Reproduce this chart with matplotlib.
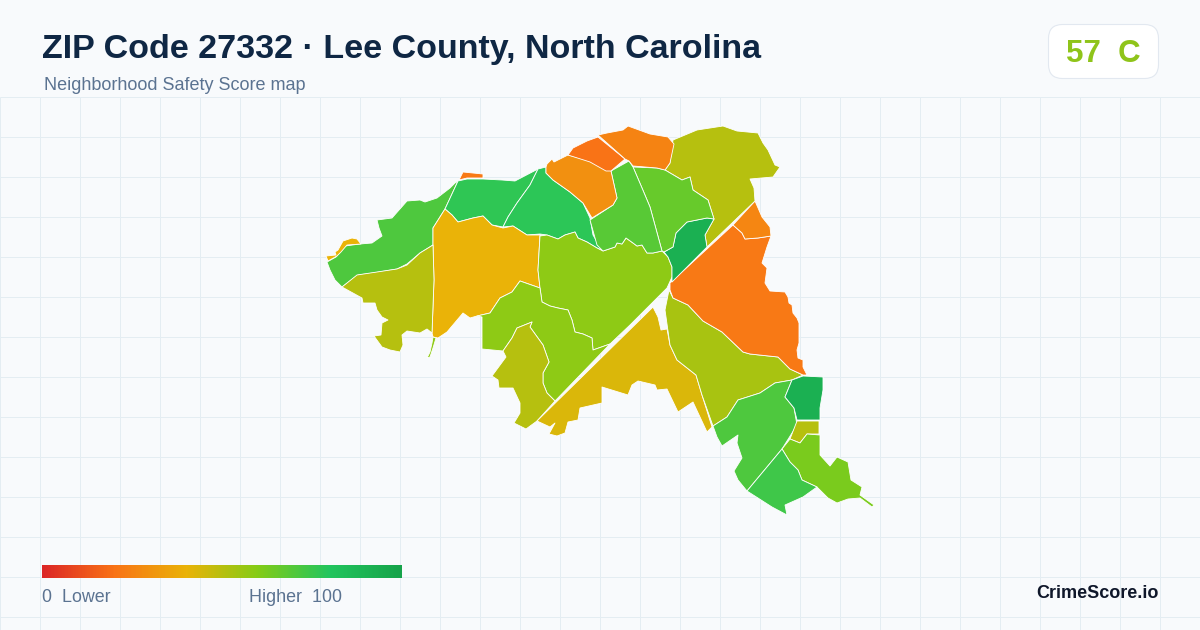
import matplotlib
matplotlib.use("Agg")
import matplotlib.pyplot as plt
import numpy as np
from matplotlib.colors import LinearSegmentedColormap, Normalize
from matplotlib.patches import Polygon, FancyBboxPatch

plt.rcParams['font.family'] = ['Liberation Sans', 'DejaVu Sans']

TITLE = "ZIP Code 27332 · Lee County, North Carolina"
SUBTITLE = "Neighborhood Safety Score map"
OVERALL_SCORE = 57
OVERALL_GRADE = "C"
BRAND = "CrimeScore.io"

# Tract outlines in image coordinates
west_strip = [(327,262),(336,257),(345,246),(360,244),(372,243),(382,236),(379,228),(377,220),(392,218),(407,201),(420,200),(425,202),(437,198),(450,188),(455,183),(458,181),(445,209),(433,228),(433,245),(420,253),(407,264),(397,269),(373,273),(358,275),(342,287),(335,280),(330,270)]
west_sliver = [(326,256),(336,255),(335,252),(338,250),(343,241),(352,238),(357,239),(361,244),(347,245),(341,252),(337,256),(328,261)]
north_sliver = [(459,180),(463,172),(483,174),(483,178),(467,178)]
north_a = [(458,181),(467,179),(483,179),(502,180),(515,181),(538,169),(530,185),(517,203),(508,217),(503,227),(492,225),(483,216),(473,218),(458,222),(452,215),(445,209)]
north_b = [(538,169),(546,167),(546,173),(553,180),(570,192),(583,203),(590,218),(593,235),(602,250),(597,248),(587,242),(578,238),(575,232),(565,235),(558,239),(547,235),(540,234),(527,235),(513,226),(503,227),(508,217),(517,203),(530,185)]
gold_west = [(445,209),(452,215),(458,222),(473,218),(483,216),(492,225),(503,228),(513,226),(527,235),(540,235),(538,270),(540,288),(520,281),(512,292),(500,298),(490,313),(477,316),(470,318),(463,313),(447,332),(438,338),(433,337),(432,333),(434,280),(433,245),(433,228)]
tail = [(433,337),(436,338),(433,348),(430,357),(427,358),(430,352),(432,343)]
olive_west = [(433,245),(434,280),(432,333),(427,329),(420,333),(407,331),(402,335),(403,345),(400,352),(390,350),(382,347),(374,336),(381,335),(382,323),(388,320),(382,317),(377,310),(375,303),(363,303),(362,298),(342,287),(357,275),(397,269),(407,265),(420,253)]
central = [(540,236),(547,235),(558,239),(565,235),(575,232),(578,238),(587,242),(597,248),(603,251),(615,247),(617,243),(622,244),(626,238),(633,243),(637,246),(642,245),(647,253),(653,253),(662,251),(668,257),(672,267),(672,277),(667,288),(652,303),(630,325),(610,344),(593,350),(592,338),(583,334),(575,332),(572,320),(568,310),(558,308),(550,306),(542,302),(540,288),(538,270)]
south_central = [(520,281),(540,288),(542,302),(550,306),(558,308),(568,310),(572,320),(575,332),(583,334),(592,338),(593,350),(610,344),(555,401),(547,393),(543,383),(543,373),(549,362),(543,345),(530,327),(532,322),(517,328),(512,338),(503,351),(482,349),(482,317),(477,316),(490,313),(500,298),(512,292)]
olive_south = [(532,322),(530,327),(543,345),(549,362),(543,373),(543,383),(547,393),(555,401),(537,421),(526,429),(514,423),(520,413),(520,403),(513,388),(499,388),(498,380),(492,376),(506,357),(503,351),(512,338),(517,328)]
gold_south = [(653,307),(658,317),(661,330),(667,329),(670,345),(677,360),(696,375),(702,395),(712,427),(707,432),(693,402),(678,412),(667,389),(657,390),(655,385),(638,381),(632,385),(628,395),(602,387),(602,403),(580,408),(578,420),(568,422),(565,433),(557,436),(549,434),(555,423),(550,427),(537,421)]
lime_mid = [(669,290),(673,298),(688,305),(703,321),(722,332),(743,352),(750,354),(778,357),(790,369),(803,375),(792,380),(775,383),(760,393),(738,400),(727,417),(713,426),(702,395),(696,375),(677,360),(670,345),(665,310)]
orange_east = [(670,283),(733,225),(742,233),(745,239),(758,238),(771,236),(767,247),(762,263),(767,268),(765,283),(770,291),(785,292),(788,297),(789,303),(792,305),(793,313),(797,318),(799,323),(799,343),(797,350),(798,358),(803,360),(803,367),(807,375),(803,375),(790,369),(778,357),(750,354),(743,352),(722,332),(703,321),(688,305),(673,298),(670,290)]
orange_upper = [(755,201),(762,217),(770,227),(771,236),(758,238),(745,239),(742,233),(733,225)]
olive_north = [(673,140),(697,130),(723,126),(737,131),(758,133),(763,143),(768,150),(775,165),(780,167),(773,177),(750,179),(754,188),(755,201),(707,247),(705,235),(714,219),(708,200),(693,190),(690,177),(682,180),(665,170),(670,163)]
dark_north = [(714,219),(705,235),(707,247),(672,282),(672,267),(668,257),(664,252),(673,247),(676,233),(687,222),(707,218)]
green_ne = [(633,167),(657,168),(665,170),(682,180),(690,177),(693,190),(708,200),(714,219),(707,218),(687,222),(676,233),(673,247),(664,252),(662,251),(650,207),(642,188)]
green_n = [(629,161),(633,167),(642,188),(650,207),(662,251),(653,253),(647,253),(642,245),(637,246),(633,243),(626,238),(622,244),(617,243),(615,247),(603,251),(597,245),(590,220),(613,205),(617,198),(611,171)]
orange_n = [(546,167),(547,164),(552,159),(554,162),(568,155),(587,160),(611,171),(617,198),(613,205),(592,218),(583,203),(570,192),(553,180),(546,173)]
orange_dark = [(568,155),(573,148),(587,141),(598,137),(625,159),(611,171),(606,171),(590,162)]
orange_top = [(598,135),(607,133),(623,130),(628,126),(650,134),(668,137),(674,144),(670,163),(665,170),(657,168),(633,166),(629,161),(625,159)]
green_se = [(713,426),(727,417),(738,400),(760,393),(775,383),(792,380),(785,397),(794,408),(797,425),(782,449),(747,491),(738,480),(734,471),(742,458),(737,443),(738,435),(722,446),(717,437)]
dark_se = [(792,380),(803,376),(823,377),(823,390),(820,408),(820,420),(797,420),(794,408),(785,397)]
olive_se = [(797,421),(819,421),(819,434),(807,434),(800,443),(790,439)]
lime_se = [(790,439),(800,443),(807,434),(820,435),(820,455),(830,466),(837,457),(848,462),(851,480),(862,487),(860,495),(874,505),(872,507),(860,498),(848,499),(837,503),(828,498),(817,487),(802,480),(798,470),(790,462),(782,449)]
green_s = [(782,449),(790,462),(798,470),(802,480),(817,487),(803,497),(785,505),(787,515),(772,507),(747,491)]

tracts = [west_strip, west_sliver, north_sliver, north_a, north_b, gold_west, tail,
          olive_west, central, south_central, olive_south, gold_south, lime_mid,
          orange_east, orange_upper, olive_north, dark_north, green_ne, green_n,
          orange_n, orange_dark, orange_top, green_se, dark_se, olive_se, lime_se,
          green_s]
scores = [71, 40, 22, 77, 78, 40, 58,
          50, 58, 58, 50, 43, 53,
          22, 26, 50, 92, 66, 69,
          29, 20, 25, 71, 92, 50, 62,
          74]

ramp_colors = ["#dc2626", "#f97316", "#eab308", "#84cc16", "#22c55e", "#16a34a"]
cmap = LinearSegmentedColormap.from_list("safety", ramp_colors)
norm = Normalize(0, 100)

fig = plt.figure(figsize=(12, 6.3), dpi=100, facecolor="#f8fafc")
ax = fig.add_axes([0, 0, 1, 1])
ax.set_xlim(0, 1200)
ax.set_ylim(630, 0)
ax.axis("off")

# Background grid
grid_x = np.arange(0, 1201, 40)
grid_y = np.arange(97, 630, 40)
ax.vlines(grid_x, 97, 630, color="#e4edf2", lw=0.72, zorder=1)
ax.hlines(grid_y, 0, 1200, color="#e4edf2", lw=0.72, zorder=1)

for poly, score in zip(tracts, scores):
    ax.add_patch(Polygon(poly, closed=True, facecolor=cmap(norm(score)),
                         edgecolor="#ffffff", lw=0.6, joinstyle="round", zorder=2))

# Header
ax.text(42, 49.5, TITLE, fontsize=24.45, fontweight="bold", color="#0f2744",
        va="center", ha="left", zorder=4)
ax.text(44, 85.5, SUBTITLE, fontsize=12.95, color="#5b7391", va="center", ha="left", zorder=4)

# Score badge
ax.add_patch(FancyBboxPatch((1048.5, 24.5), 110, 54, boxstyle="round,pad=0,rounding_size=14",
                            facecolor="#ffffff", edgecolor="#e2e8f0", lw=0.8, zorder=3))
ax.text(1066, 53.5, f"{OVERALL_SCORE}  {OVERALL_GRADE}", fontsize=22.5, fontweight="bold",
        color="#8fc41a", va="center", ha="left", zorder=4)

# Colour ramp legend
gradient = np.linspace(0, 1, 360).reshape(1, -1)
ax.imshow(gradient, cmap=cmap, extent=(42, 402, 578, 565), aspect="auto", zorder=3)
ax.set_xlim(0, 1200)
ax.set_ylim(630, 0)
ax.text(42, 597.5, "0  Lower", fontsize=12.9, color="#5b7391", va="center", ha="left", zorder=4)
ax.text(249, 597.5, "Higher  100", fontsize=12.9, color="#5b7391", va="center", ha="left", zorder=4)

ax.text(1158.5, 593.5, BRAND, fontsize=13, fontweight="bold", color="#0f172a",
        va="center", ha="right", zorder=4)

fig.savefig("out.png", dpi=100, facecolor=fig.get_facecolor())
